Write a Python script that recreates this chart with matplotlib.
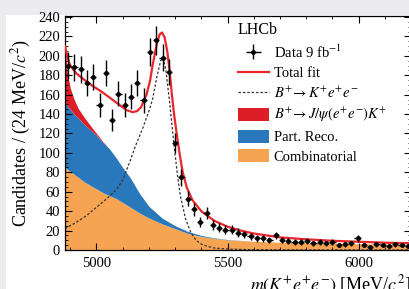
import numpy as np
import matplotlib
matplotlib.use("Agg")
import matplotlib.pyplot as plt
from matplotlib.patches import Rectangle, Patch
from matplotlib.lines import Line2D

plt.rcParams['font.family'] = ['Liberation Serif', 'DejaVu Serif']
plt.rcParams['mathtext.fontset'] = 'stix'

# ---------------- data ----------------
bin_edges = np.arange(4880, 6201, 24)
data_counts = [190, 188, 186, 172, 178, 149, 182, 134, 161, 149,
               158, 172, 154, 204, 216, 198, 183, 110, 75, 53,
               42, 29, 38, 26, 23, 21, 21, 18, 16, 14,
               12, 12, 10, 15, 10, 9, 8, 8, 9, 7,
               8, 7, 8, 5, 6, 7, 12, 5, 3, 6,
               5, 4, 6, 5, 4]

# background components (on a common mass grid)
bkg_mass = [4880, 4885, 4890, 4900, 4915, 4930, 4955, 4980, 5000, 5025,
            5050, 5075, 5100, 5130, 5165, 5200, 5250, 5300, 5350, 5400,
            5450, 5500, 5600, 5700, 5800, 5900, 6000, 6100, 6200]
comb = [85, 84, 83, 81, 78, 75, 70, 66, 63, 59,
        56, 53, 49, 44, 38, 33, 27, 22, 17, 14,
        12, 10.5, 9, 8, 7.5, 7, 6.5, 6, 5.5]
partreco = [67, 66, 65, 64, 62, 61, 59, 57, 55, 52,
            48, 42, 36, 30, 20, 12, 6, 3, 2, 1,
            0.5, 0.3, 0, 0, 0, 0, 0, 0, 0]
jpsi = [63, 45, 33, 22, 15, 10, 7, 4, 2, 0.5,
        0, 0, 0, 0, 0, 0, 0, 0, 0, 0,
        0, 0, 0, 0, 0, 0, 0, 0, 0]

# signal B+ -> K+ e+ e-
sig_mass = [4880, 4920, 4960, 5000, 5040, 5076, 5100, 5126, 5150, 5176,
            5200, 5214, 5230, 5245, 5255, 5265, 5280, 5295, 5310, 5320,
            5340, 5360, 5380, 5400, 5420, 5450, 5500, 5600, 5800, 6200]
signal = [22, 28, 35, 44, 53, 62, 72, 90, 108, 125,
          143, 155, 178, 195, 198, 185, 150, 110, 75, 56,
          32, 18, 10, 6, 4, 2, 1, 0.3, 0.1, 0]

# total fit
tot_mass = [4880, 4890, 4900, 4923, 4950, 4985, 5020, 5050, 5085, 5115,
            5138, 5155, 5170, 5191, 5205, 5214, 5230, 5241, 5250, 5260,
            5270, 5279, 5287, 5296, 5306, 5318, 5329, 5345, 5367, 5400,
            5450, 5500, 5550, 5600, 5700, 5800, 5900, 6000, 6100, 6200]
total = [210, 198, 190, 182, 176, 169, 163, 157, 150, 144,
         142, 143, 147, 160, 175, 190, 212, 222, 224, 219,
         205, 185, 162, 140, 120, 98, 80, 64, 51, 40,
         30, 24, 20, 17, 13, 11, 9.5, 8.5, 7.5, 7]

labels = ['Data 9 fb$^{-1}$', 'Total fit', r'$B^{+}\!\rightarrow K^{+}e^{+}e^{-}$',
          r'$B^{+}\!\rightarrow J/\psi(e^{+}e^{-})K^{+}$', 'Part. Reco.', 'Combinatorial']

# ---------------- figure ----------------
W, H = 410, 289
fig = plt.figure(figsize=(W / 100, H / 100), dpi=100)
fig.patch.set_facecolor('#ececee')
fig.add_artist(Rectangle((6 / W, 0), 1, 1 - 15 / H, transform=fig.transFigure,
                         facecolor='white', edgecolor='none', zorder=-5))

ax = fig.add_axes([65 / W, 39 / H, (411 - 65) / W, 234 / H])

c_orange = '#f7a452'
c_blue = '#2a78bc'
c_red = '#dc1f26'

bm = np.array(bkg_mass, float)
c1 = np.array(comb, float)
c2 = c1 + np.array(partreco, float)
c3 = c2 + np.array(jpsi, float)

ax.fill_between(bm, 0, c1, color=c_orange, lw=0, zorder=1)
ax.fill_between(bm, c1, c2, color=c_blue, lw=0, zorder=1)
ax.fill_between(bm, c2, c3, color=c_red, lw=0, zorder=1)

ax.plot(sig_mass, signal, color='#333333', lw=0.9, ls=(0, (2.0, 1.5)), zorder=2)
ax.plot(tot_mass, total, color='#e8262c', lw=1.6, zorder=3)

centers = 0.5 * (bin_edges[:-1] + bin_edges[1:])
counts = np.array(data_counts, float)
eb = ax.errorbar(centers, counts, yerr=np.sqrt(counts), xerr=12,
                 fmt='o', ms=2.5, color='black', ecolor='black',
                 elinewidth=1.0, capsize=0, zorder=4)

ax.set_xlim(4880, 6200)
ax.set_ylim(0, 241)
ax.set_xticks([5000, 5500, 6000])
ax.set_xticks(np.arange(4900, 6201, 100), minor=True)
ax.set_yticks(np.arange(0, 241, 20))
ax.set_yticks(np.arange(0, 241, 5), minor=True)
ax.tick_params(which='both', direction='in', top=True, right=True, labelsize=10.5)
ax.tick_params(which='major', length=5, width=0.8)
ax.tick_params(which='minor', length=2.5, width=0.6)
ax.tick_params(axis='x', pad=5)
for s in ax.spines.values():
    s.set_linewidth(0.9)

ax.set_ylabel('Candidates / (24 MeV/$c^2$)', fontsize=13, labelpad=4)
ax.set_xlabel('$m(K^{+}e^{+}e^{-})$ [MeV/$c^2$]', fontsize=13, loc='right', labelpad=3)

handles = [eb,
           Line2D([], [], color='#e8262c', lw=1.6),
           Line2D([], [], color='#333333', lw=0.9, ls=(0, (2.0, 1.5))),
           Patch(facecolor=c_red, edgecolor='none'),
           Patch(facecolor=c_blue, edgecolor='none'),
           Patch(facecolor=c_orange, edgecolor='none')]
leg = ax.legend(handles, labels, loc='upper left',
                bbox_to_anchor=(238 / W, 1 - 22 / H), bbox_transform=fig.transFigure,
                frameon=False, fontsize=10.5, title='LHCb', title_fontsize=11.5,
                handlelength=2.1, handleheight=1.0, handletextpad=0.35,
                labelspacing=0.36, borderpad=0, borderaxespad=0,
                alignment='left')

fig.savefig('out.png', dpi=100, facecolor=fig.get_facecolor())
